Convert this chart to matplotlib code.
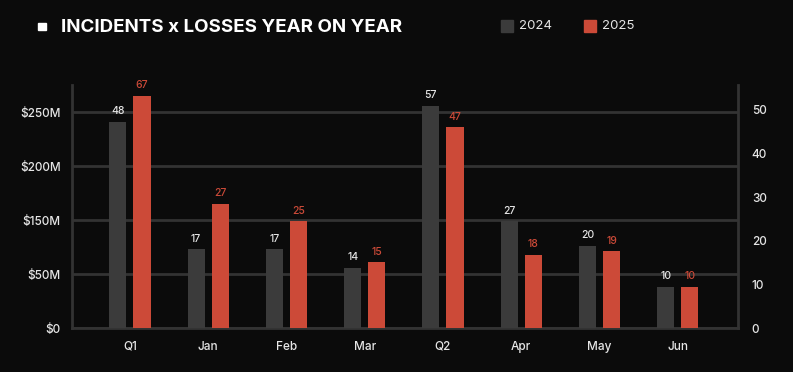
import matplotlib.pyplot as plt
import numpy as np

categories = ['Q1', 'Jan', 'Feb', 'Mar', 'Q2', 'Apr', 'May', 'Jun']
# bar heights (losses, $M)
losses_2024 = [191, 73, 73, 56, 206, 99, 76, 38]
losses_2025 = [215, 115, 99, 61, 186, 68, 71, 38]
# incident counts printed above the bars
incidents_2024 = [48, 17, 17, 14, 57, 27, 20, 10]
incidents_2025 = [67, 27, 25, 15, 47, 18, 19, 10]

left_ticks = [0, 50, 100, 150, 200]
left_labels = ['$0', '$50M', '$150M', '$200M', '$250M']
right_ticks = [0, 10, 20, 30, 40, 50]

BG = '#0b0b0b'
GREY = '#3b3b3b'
RED = '#cc4a38'
TXT = '#e6e6e6'
LINE = '#333333'


def main():
    plt.rcParams['font.family'] = ['Inter', 'DejaVu Sans']

    fig = plt.figure(figsize=(7.93, 3.72), dpi=100, facecolor=BG)
    ax = fig.add_axes([0.0908, 0.118, 0.8398, 0.6535])
    ax.set_facecolor(BG)

    x = np.arange(len(categories))
    w = 0.22
    off = 0.154
    b1 = ax.bar(x - off, losses_2024, w, color=GREY, zorder=3)
    b2 = ax.bar(x + off, losses_2025, w, color=RED, zorder=3)

    for rect, n in zip(b1, incidents_2024):
        ax.annotate(str(n), (rect.get_x() + rect.get_width() / 2, rect.get_height()),
                    xytext=(0, 4), textcoords='offset points', ha='center', va='bottom',
                    fontsize=7.5, color=TXT, fontweight='medium')
    for rect, n in zip(b2, incidents_2025):
        ax.annotate(str(n), (rect.get_x() + rect.get_width() / 2, rect.get_height()),
                    xytext=(0, 4), textcoords='offset points', ha='center', va='bottom',
                    fontsize=7.5, color=RED, fontweight='medium')

    ax.set_xlim(-0.74, 7.77)
    ax.set_ylim(0, 225)
    ax.set_xticks(x)
    ax.set_xticklabels(categories)
    ax.set_yticks(left_ticks)
    ax.set_yticklabels(left_labels)
    ax.tick_params(axis='x', length=0, pad=9, colors=TXT, labelsize=8.5)
    ax.tick_params(axis='y', length=0, pad=8, colors=TXT, labelsize=8.5)
    for lab in ax.get_xticklabels() + ax.get_yticklabels():
        lab.set_fontweight('medium')

    ax.grid(axis='y', color=LINE, linewidth=2, zorder=0)
    ax.spines['top'].set_visible(False)
    ax.spines['right'].set_visible(False)
    for s in ('left', 'bottom'):
        ax.spines[s].set_color(LINE)
        ax.spines[s].set_linewidth(2)

    ax2 = ax.twinx()
    ax2.set_ylim(0, 55.7)
    ax2.set_yticks(right_ticks)
    ax2.tick_params(axis='y', length=0, pad=10, colors=TXT, labelsize=8.5)
    for lab in ax2.get_yticklabels():
        lab.set_fontweight('medium')
    for s in ('top', 'left', 'bottom'):
        ax2.spines[s].set_visible(False)
    ax2.spines['right'].set_color(LINE)
    ax2.spines['right'].set_linewidth(2)

    # title with square bullet
    fig.patches.append(plt.Rectangle((38 / 793, 1 - 29.5 / 372), 8 / 793, 7 / 372,
                                     transform=fig.transFigure, color='white'))
    fig.text(61 / 793, 1 - 27 / 372, 'INCIDENTS x LOSSES YEAR ON YEAR', color='white',
             fontsize=13.5, fontweight='bold', va='center', ha='left')

    # legend
    for xs, col, lab in ((501, GREY, '2024'), (584, RED, '2025')):
        fig.patches.append(plt.Rectangle((xs / 793, 1 - 32 / 372), 12 / 793, 12 / 372,
                                         transform=fig.transFigure, color=col))
        fig.text((xs + 18) / 793, 1 - 26 / 372, lab, color=TXT, fontsize=9.5,
                 va='center', ha='left')

    fig.savefig('out.png', dpi=100, facecolor=BG)


if __name__ == '__main__':
    main()
